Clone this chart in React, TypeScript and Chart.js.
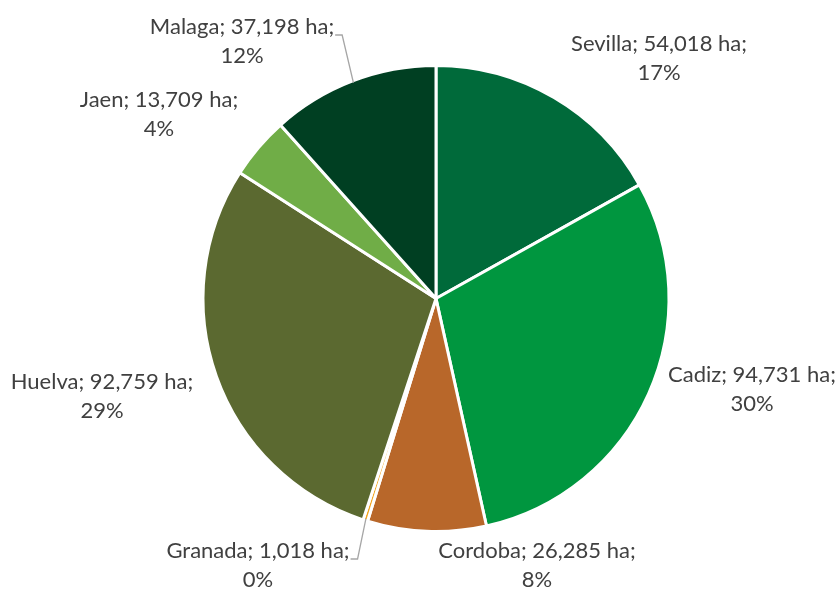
import React, { useEffect, useRef } from "react";
import { Chart, registerables } from "chart.js";

Chart.register(...registerables);

const provinces = ["Sevilla", "Cadiz", "Cordoba", "Granada", "Huelva", "Jaen", "Malaga"];
const hectares = [54018, 94731, 26285, 1018, 92759, 13709, 37198];
const colors = ["#006A3A", "#00963F", "#B8672A", "#F2A31C", "#5B6930", "#70AD47", "#003F22"];

// label anchor offsets (from pie centre) and optional leader line
const labelLayout = [
  { dx: 223, dy: -240, leader: false },
  { dx: 316, dy: 91, leader: false },
  { dx: 101, dy: 267, leader: false },
  { dx: -178, dy: 267, leader: true },
  { dx: -334, dy: 98, leader: false },
  { dx: -277, dy: -184, leader: false },
  { dx: -194, dy: -257, leader: true },
];

const fmt = (n: number) => n.toString().replace(/\B(?=(\d{3})+(?!\d))/g, ",");

const labelPlugin = {
  id: "outLabels",
  afterDraw(chart: any) {
    const ctx = chart.ctx;
    const meta = chart.getDatasetMeta(0);
    const total = hectares.reduce((a, b) => a + b, 0);
    ctx.save();
    ctx.font = "22px Lato, 'Open Sans', sans-serif";
    ctx.fillStyle = "#404040";
    ctx.textAlign = "center";
    ctx.textBaseline = "middle";
    const lh = 29;
    meta.data.forEach((arc: any, i: number) => {
      const { x, y, outerRadius, startAngle, endAngle } = arc.getProps(
        ["x", "y", "outerRadius", "startAngle", "endAngle"], true);
      const L = labelLayout[i];
      const cx = x + L.dx;
      const cy = y + L.dy;
      const line1 = `${provinces[i]}; ${fmt(hectares[i])} ha;`;
      const pct = Math.round((hectares[i] / total) * 100) + "%";
      ctx.fillText(line1, cx, cy - lh / 2);
      ctx.fillText(pct, cx, cy + lh / 2);
      if (L.leader) {
        const mid = (startAngle + endAngle) / 2;
        const ex = x + Math.cos(mid) * (outerRadius - 2);
        const ey = y + Math.sin(mid) * (outerRadius - 2);
        const w = ctx.measureText(line1).width;
        const tx = cx + w / 2 + 1;
        const ty = cy - lh / 2 + 8;
        ctx.strokeStyle = "#A6A6A6";
        ctx.lineWidth = 1.3;
        ctx.beginPath();
        ctx.moveTo(tx, ty);
        ctx.lineTo(tx + 7, ty);
        ctx.lineTo(ex, ey);
        ctx.stroke();
      }
    });
    ctx.restore();
  },
};

export default function App() {
  const ref = useRef<HTMLCanvasElement>(null);
  useEffect(() => {
    document.body.style.margin = "0";
    const chart = new Chart(ref.current!, {
      type: "pie",
      data: {
        labels: provinces,
        datasets: [
          {
            data: hectares,
            backgroundColor: colors,
            borderColor: "#FFFFFF",
            borderWidth: 3,
          },
        ],
      },
      options: {
        responsive: false,
        animation: false,
        layout: { padding: { left: 201.5, right: 166.5, top: 64, bottom: 59 } },
        plugins: { legend: { display: false }, tooltip: { enabled: false } },
      },
      plugins: [labelPlugin],
    });
    return () => chart.destroy();
  }, []);
  return (
    <div style={{ width: 837, height: 592, background: "#fff" }}>
      <canvas ref={ref} width={837} height={592} style={{ display: "block" }} />
    </div>
  );
}
